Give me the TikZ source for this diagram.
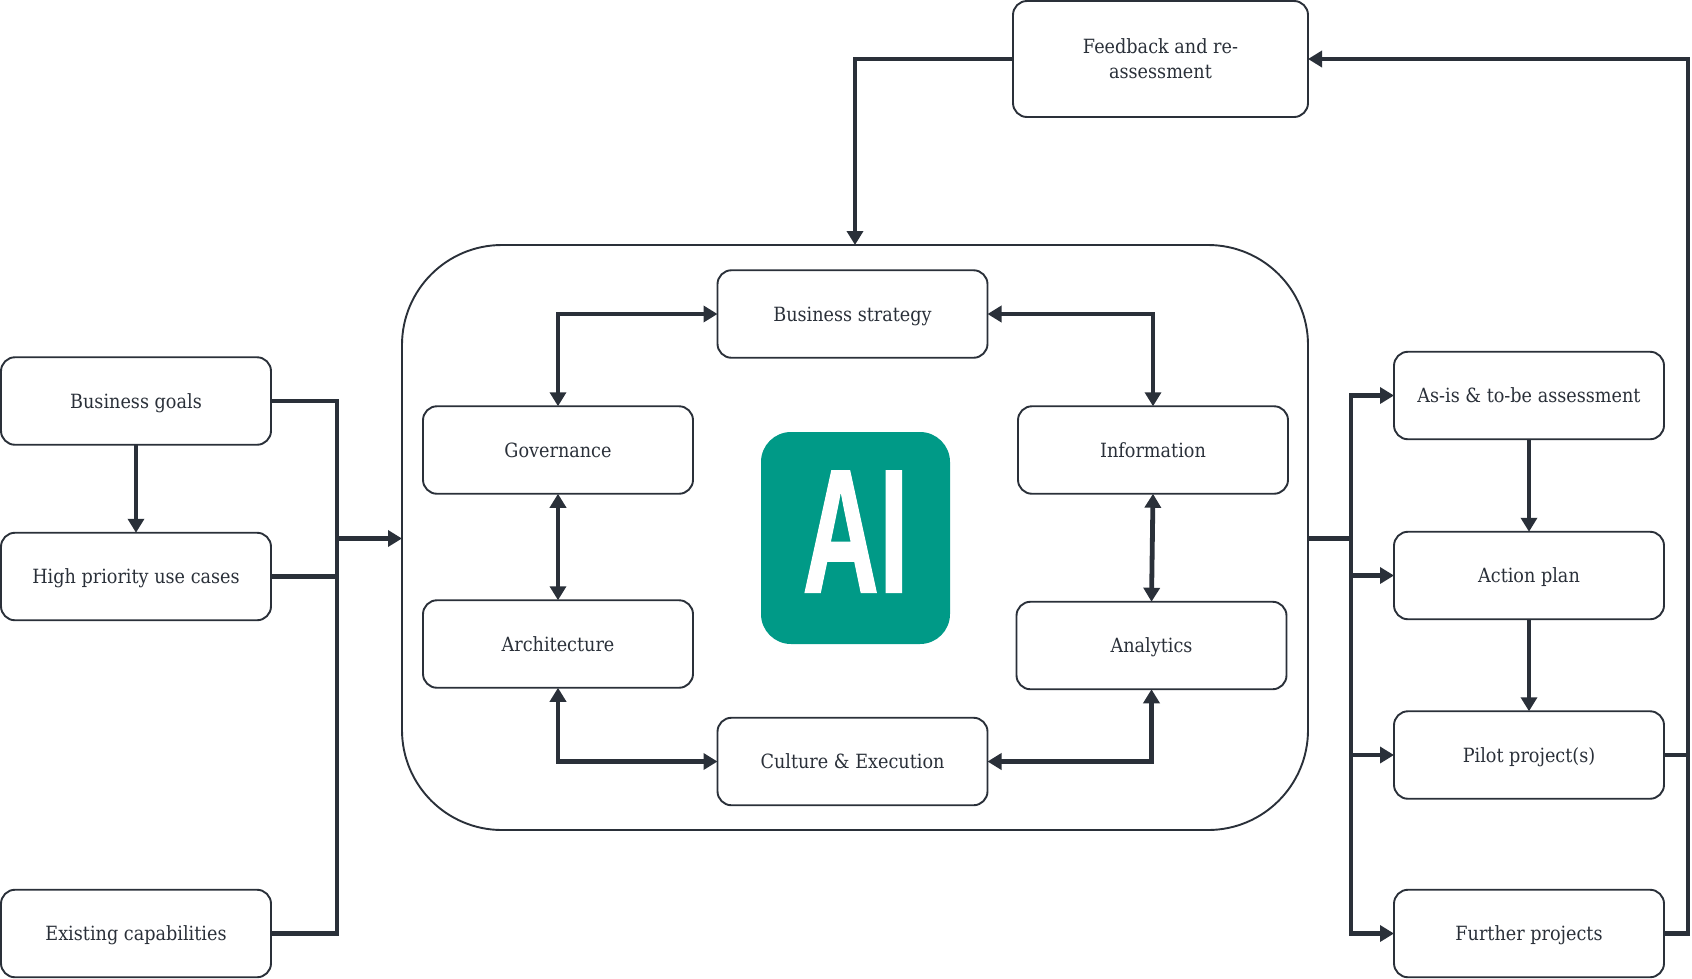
\documentclass[tikz,border=0pt]{standalone}
\usepackage{fontspec}
\setmainfont[FakeStretch=0.9]{DejaVu Serif}
\newfontfamily\logofont[FakeStretch=0.6,FakeBold=0.6]{Liberation Sans}
\usetikzlibrary{arrows.meta}
\definecolor{inkdark}{HTML}{2A3039}
\definecolor{logoteal}{HTML}{009A87}
\begin{document}
\begin{tikzpicture}[x=1pt, y=-1pt]
    % Define styles
    \tikzset{
        stepbox/.style={draw=inkdark, line width=1.9pt, rounded corners=14pt, fill=white, text=inkdark, font=\fontsize{19.6}{25}\selectfont, align=center, minimum width=270pt, minimum height=87.5pt, inner sep=0pt, outer sep=0pt, text height=18pt, text depth=4pt},
        corebox/.style={draw=inkdark, line width=1.9pt, rounded corners=100pt, minimum width=906pt, minimum height=585pt, inner sep=0pt, outer sep=0pt},
        logobox/.style={fill=logoteal, rounded corners=30pt, text=white, minimum width=189pt, minimum height=212pt, inner sep=0pt, text height=125pt, text depth=16pt, font=\logofont\bfseries\fontsize{177}{177}\selectfont},
        link/.style={draw=inkdark, line width=4.8pt, line join=miter},
        oneway/.style={link, -{Triangle[length=14pt, width=16pt]}},
        twoway/.style={link, {Triangle[length=14pt, width=16pt]}-{Triangle[length=14pt, width=16pt]}}
    }
    \useasboundingbox (0,0) rectangle (1692,978);

    % Central block
    \node[corebox] (core) at (855,537.5) {};
    \node[logobox] (logo) at (855.5,538) {AI};
    \node[stepbox] (strategy) at (852.5,314) {Business strategy};
    \node[stepbox] (governance) at (558,450) {Governance};
    \node[stepbox] (architecture) at (558,644) {Architecture};
    \node[stepbox] (information) at (1153,450) {Information};
    \node[stepbox] (analytics) at (1151.5,645.5) {Analytics};
    \node[stepbox] (culture) at (852.5,761.5) {Culture \& Execution};

    % Inputs (left)
    \node[stepbox] (goals) at (136,401) {Business goals};
    \node[stepbox] (usecases) at (136,576.5) {High priority use cases};
    \node[stepbox] (capabilities) at (136,933.5) {Existing capabilities};

    % Outputs (right)
    \node[stepbox] (assessment) at (1529,395.5) {As-is \& to-be assessment};
    \node[stepbox] (plan) at (1529,575.5) {Action plan};
    \node[stepbox] (pilot) at (1529,755) {Pilot project(s)};
    \node[stepbox] (further) at (1529,933.5) {Further projects};

    % Feedback (top)
    \node[stepbox, minimum width=295pt, minimum height=116pt, text height=, text depth=] (feedback) at (1160.5,59) {Feedback and re-\\assessment};

    % Bus lines
    \coordinate (leftbus) at (337,538.5);
    \coordinate (rightbus) at (1351,538.5);
    \coordinate (returnbus) at (1688,59);

    % Connections inside the central block
    \draw[twoway] (governance.north) |- (strategy.west);
    \draw[twoway] (strategy.east) -| (information.north);
    \draw[twoway] (governance.south) -- (architecture.north);
    \draw[twoway] (information.south) -- (analytics.north);
    \draw[twoway] (architecture.south) |- (culture.west);
    \draw[twoway] (culture.east) -| (analytics.south);

    % Connections on the left
    \draw[oneway] (goals.south) -- (usecases.north);
    \draw[link] (goals.east) -| (leftbus);
    \draw[link] (capabilities.east) -| (leftbus);
    \draw[link] (usecases.east) -- (usecases.east -| leftbus);
    \draw[oneway] (leftbus) -- (leftbus -| core.west);

    % Connections on the right
    \draw[link] (rightbus -| core.east) -- (rightbus);
    \draw[oneway] (rightbus) |- (assessment.west);
    \draw[oneway] (rightbus) |- (further.west);
    \draw[oneway] (plan.west -| rightbus) -- (plan.west);
    \draw[oneway] (pilot.west -| rightbus) -- (pilot.west);
    \draw[oneway] (assessment.south) -- (plan.north);
    \draw[oneway] (plan.south) -- (pilot.north);

    % Feedback loop
    \draw[oneway] (further.east) -| (returnbus) -- (feedback.east);
    \draw[link] (pilot.east) -- (pilot.east -| returnbus);
    \draw[oneway] (feedback.west) -| (core.north);
\end{tikzpicture}
\end{document}
